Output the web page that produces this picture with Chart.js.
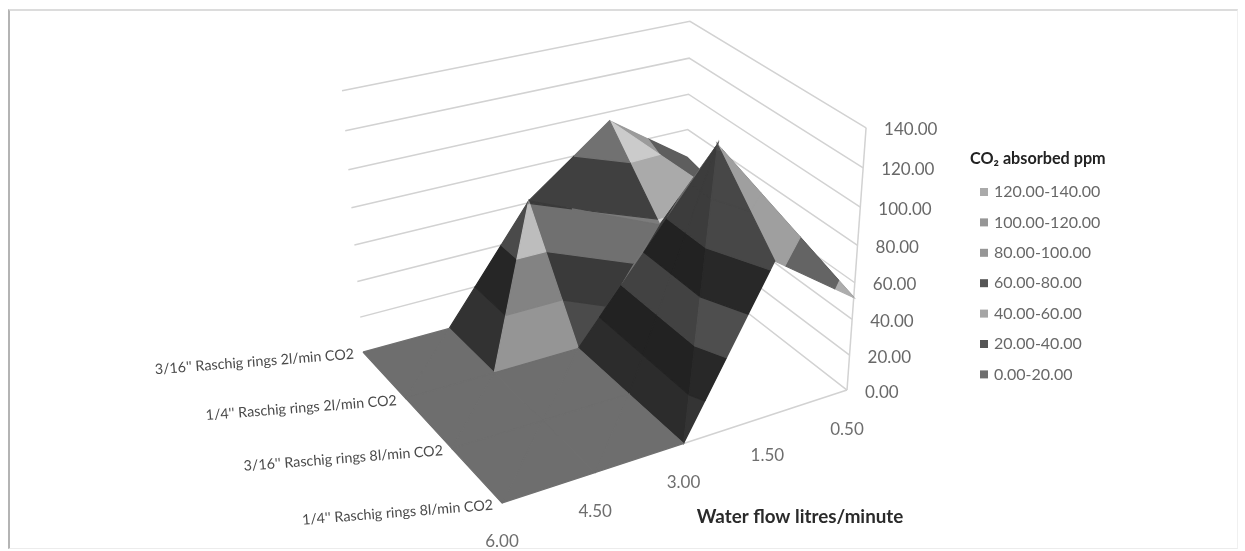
<!DOCTYPE html>
<html>
<head>
<meta charset="utf-8">
<script src="https://cdn.jsdelivr.net/npm/chart.js@4"></script>
<style>
  html, body { margin: 0; background: #fff; }
  #frame { position: absolute; left: 8px; top: 9px; width: 1230px; height: 540px; box-sizing: border-box;
    border-top: 2px solid #dcdcdc; border-left: 2px solid #b4b4b4; border-right: 1px solid #f0f0f0; border-bottom: 1px solid #ececec; }
  /* the source picture is a soft scan */
  canvas { position: absolute; left: 0; top: 0; filter: blur(0.5px); }
</style>
</head>
<body>
<div id="frame"></div>
<canvas id="surface" width="1245" height="551"></canvas>
<script>
// CO2 absorbed, one row per packing, front of the chart to the back
const waterFlow = ["6.00", "4.50", "3.00", "1.50", "0.50"];
const seriesNames = [
  "1/4'' Raschig rings 8l/min CO2",
  "3/16'' Raschig rings 8l/min CO2",
  "1/4'' Raschig rings 2l/min CO2",
  "3/16'' Raschig rings 2l/min CO2"
];
const rings14At8 = [0, 0, 0, 84, 52];
const rings316At8 = [0, 0, 0, 122, 55];
const rings14At2 = [0, 0, 0, 58, 56];
const rings316At2 = [0, 0, 61, 95, 64];
const rows = [rings14At8, rings316At8, rings14At2, rings316At2];
const zTicks = [0, 20, 40, 60, 80, 100, 120, 140];

// grey of each 20ppm band, lowest first
const bandGrey = [110, 85, 165, 85, 150, 150, 170];

// perspective of the box: u along water flow, v along series, w up
function project(u, v, w) {
  const d = 1 + 0.1099 * u + 0.1267 * v - 0.0855 * w;
  return {
    x: (438.1 * u - 93 * v - 52.9 * w + 502) / d,
    y: (-70.1 * u - 106.4 * v - 302 * w + 503) / d
  };
}
const at = (i, j) => ({ u: i / 4, v: j / 3, z: rows[j][i] });

// facets back to front: three grid corners [i, j] and a shade (<1 darker, >1 lighter)
const facets = [
  [[3, 3], [4, 3], [4, 2], 1.05],
  [[3, 3], [4, 2], [3, 2], 1.5],
  [[2, 3], [3, 3], [3, 2], 0.75],
  [[2, 3], [2, 2], [3, 2], 0.68],
  [[1, 3], [1, 2], [2, 3], 0.45],
  [[1, 2], [2, 2], [2, 3], 1.27],
  [[0, 3], [0, 2], [1, 3], 1],
  [[0, 2], [1, 2], [1, 3], 1],
  [[3, 2], [4, 2], [3, 1], 0.7],
  [[4, 2], [4, 1], [3, 1], 0.7],
  [[2, 2], [3, 2], [3, 1], 0.7],
  [[2, 2], [2, 1], [3, 1], 0.4],
  [[1, 2], [1, 1], [2, 2], 1],
  [[1, 1], [2, 1], [2, 2], 1],
  [[0, 2], [0, 1], [1, 2], 1],
  [[0, 1], [1, 1], [1, 2], 1],
  [[3, 1], [4, 1], [4, 0], 0.7],
  [[3, 1], [3, 0], [4, 0], 1.09],
  [[2, 1], [2, 0], [3, 1], 0.4],
  [[2, 0], [3, 0], [3, 1], 0.47],
  [[1, 1], [1, 0], [2, 1], 1],
  [[1, 0], [2, 0], [2, 1], 1],
  [[0, 1], [0, 0], [1, 1], 1],
  [[0, 0], [1, 0], [1, 1], 1]
];

function clip(poly, level, keepAbove) {
  const out = [];
  poly.forEach((p, k) => {
    const q = poly[(k + 1) % poly.length];
    const pIn = keepAbove ? p.z >= level : p.z <= level;
    const qIn = keepAbove ? q.z >= level : q.z <= level;
    if (pIn) out.push(p);
    if (pIn !== qIn) {
      const t = (level - p.z) / (q.z - p.z);
      out.push({ u: p.u + (q.u - p.u) * t, v: p.v + (q.v - p.v) * t, z: level });
    }
  });
  return out;
}

function shadeGrey(base, s) {
  const g = Math.round(s <= 1 ? base * s : base + (255 - base) * (s - 1));
  return "rgb(" + g + "," + g + "," + g + ")";
}

const toPixels = (p) => project(p.u, p.v, p.z / 140);
const datasets = [];

function addLine(points) {
  datasets.push({ data: points, showLine: true, fill: false, borderColor: "#d2d2d2", borderWidth: 1.5,
    pointRadius: 0, clip: false });
}

// walls, then floor edge and the right hand upright
zTicks.forEach((t) => {
  const w = t / 140;
  addLine([project(0, 1, w), project(1, 1, w), project(1, 0, w)]);
});
addLine([project(1, 0, 0), project(1, 0, 1)]);
addLine([project(0, 0, 0), project(1, 0, 0)]);

facets.forEach(([a, b, c, shade]) => {
  const tri = [at(a[0], a[1]), at(b[0], b[1]), at(c[0], c[1])];
  bandGrey.forEach((grey, n) => {
    const poly = clip(clip(tri, n * 20, true), (n + 1) * 20, false);
    if (poly.length < 3) return;
    const pts = poly.map(toPixels);
    pts.push(pts[0]);
    const col = shadeGrey(grey, shade);
    datasets.push({ data: pts, showLine: true, fill: "shape", backgroundColor: col, borderColor: col,
      borderWidth: 1.2, pointRadius: 0, clip: false });
  });
});

// first dataset is painted last in Chart.js
datasets.reverse();

const labelsPlugin = {
  id: "labels",
  afterDraw(chart) {
    const ctx = chart.ctx;
    const text = (s, x, y, font, color, align) => {
      ctx.font = font;
      ctx.fillStyle = color;
      ctx.textAlign = align || "left";
      ctx.textBaseline = "middle";
      ctx.fillText(s, x, y);
    };
    ctx.save();
    zTicks.forEach((t) => {
      const p = project(1, 0, t / 140);
      text(t.toFixed(2), p.x + 18, p.y + 2, "17px Lato", "#686868");
    });
    waterFlow.forEach((s, i) => {
      const p = project(i / 4, 0, 0);
      text(s, p.x, p.y + 39, "17px Lato", "#6e6e6e", "center");
    });
    seriesNames.forEach((s, j) => {
      const p = project(0, j / 3, 0);
      ctx.save();
      ctx.translate(p.x - 9, p.y + 2);
      ctx.rotate(-4.5 * Math.PI / 180);
      text(s, 0, 0, "14.3px Lato", "#4a4a4a", "right");
      ctx.restore();
    });
    text("Water flow litres/minute", 800, 517, "bold 18.8px Lato", "#2a2a2a", "center");

    // legend, top band first
    text("CO\u2082 absorbed ppm", 970, 159, "bold 16.2px Lato", "#222");
    bandGrey.slice().reverse().forEach((grey, k) => {
      const lo = (6 - k) * 20;
      const y = 192 + k * 30.4;
      ctx.fillStyle = shadeGrey(grey, 1);
      ctx.fillRect(980, y - 4, 8, 8);
      text(lo.toFixed(2) + "-" + (lo + 20).toFixed(2), 994, y, "16px Lato", "#686868");
    });
    ctx.restore();
  }
};

new Chart(document.getElementById("surface"), {
  type: "scatter",
  data: { datasets: datasets },
  plugins: [labelsPlugin],
  options: {
    responsive: false,
    animation: false,
    layout: { padding: 0 },
    plugins: { legend: { display: false }, tooltip: { enabled: false }, title: { display: false } },
    scales: {
      x: { type: "linear", min: 0, max: 1245, display: false },
      y: { type: "linear", min: 0, max: 551, reverse: true, display: false }
    }
  }
});
</script>
</body>
</html>
